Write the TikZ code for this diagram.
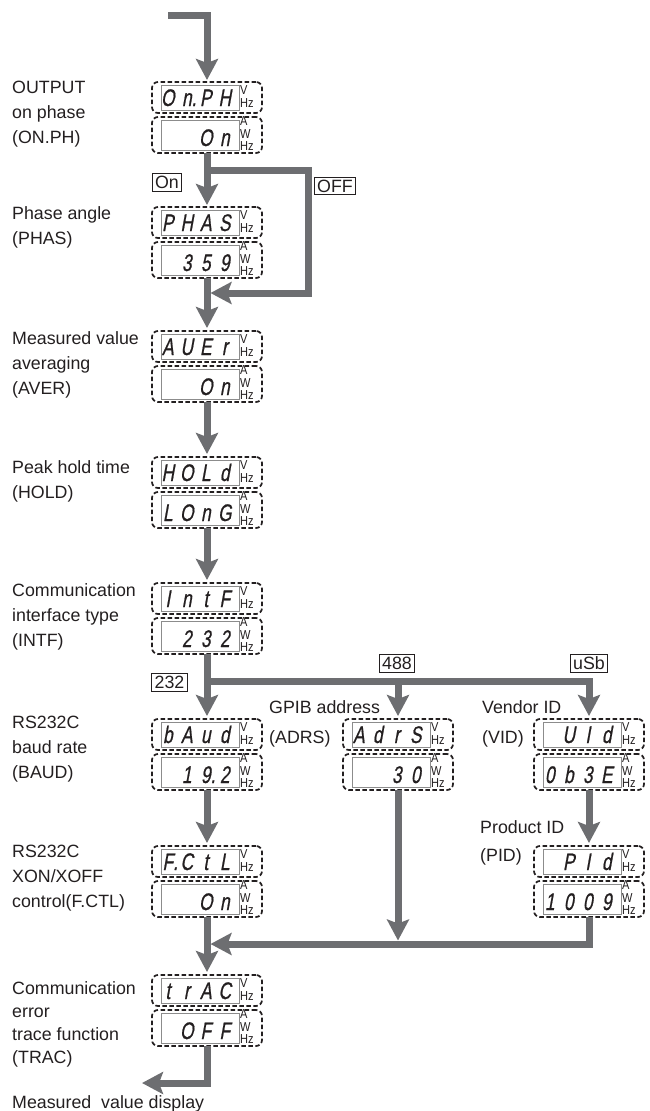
\documentclass[tikz,border=0pt]{standalone}
\usepackage{fontspec}
\setmainfont{Liberation Sans}
\newfontfamily\lcdfont{Liberation Sans}[FakeStretch=0.72,FakeSlant=0.18,FakeBold=0.7]
\newfontfamily\unitfont{Liberation Sans}[FakeStretch=0.85]
\usepackage{tikz}
\usetikzlibrary{arrows.meta,calc}
\definecolor{flowgrey}{RGB}{109,110,113}
\definecolor{inkblack}{RGB}{35,31,32}
\definecolor{lcdgrey}{RGB}{140,140,140}

\tikzset{
  lcdframe/.style={draw=inkblack,line width=1.7pt,dash pattern=on 4.5pt off 2.5pt,
    rounded corners=6pt,minimum width=110pt,inner sep=0pt,outer sep=0pt},
  lcdinner/.style={draw=lcdgrey,line width=1pt},
  lcdtext/.style={inner sep=0pt,text=inkblack,font=\lcdfont\fontsize{24}{24}\selectfont},
  lcdunit/.style={inner sep=0pt,align=left,text=inkblack,font=\unitfont\fontsize{13}{12.5}\selectfont},
  flow/.style={draw=flowgrey,line width=7pt,-{Stealth[length=21pt,width=22pt,inset=4pt]}},
  desc/.style={inner sep=0pt,align=left,anchor=north west,text=inkblack,
    font=\fontsize{17.8}{25}\selectfont},
  tag/.style={draw=inkblack,line width=0.9pt,fill=white,inner xsep=3pt,inner ysep=2.5pt,
    text height=12.7pt,text depth=0pt,text=inkblack,font=\fontsize{17.8}{17.8}\selectfont}
}

% one display cell per character
\newcommand{\lcdcells}[1]{\foreach \lcdch in {#1}{\makebox[19pt]{\lcdch}}}
% display pair: name, x, top y, upper cells, lower cells
\newcommand{\lcdpair}[5]{%
  \node[lcdframe,minimum height=31pt] (#1) at (#2,#3+15.5) {};
  \node[lcdframe,minimum height=36pt] (#1v) at (#2,#3+53) {};
  \draw[lcdinner] ([xshift=9pt,yshift=-3pt]#1.north west) rectangle ([xshift=-23pt,yshift=3pt]#1.south east);
  \draw[lcdinner] ([xshift=9pt,yshift=-3pt]#1v.north west) rectangle ([xshift=-23pt,yshift=3pt]#1v.south east);
  \node[lcdtext,anchor=base east] (#1t) at ([xshift=-27.5pt,yshift=7pt]#1.south east) {\lcdcells{#4}};
  \node[lcdtext,anchor=base east] (#1vt) at ([xshift=-27.5pt,yshift=7pt]#1v.south east) {\lcdcells{#5}};
  \node[lcdunit,anchor=west] (#1u) at ([xshift=-22pt,yshift=1pt]#1.east) {V\\Hz};
  \node[lcdunit,anchor=west] (#1vu) at ([xshift=-22pt,yshift=1pt]#1v.east) {A\\W\\Hz};
}

\begin{document}
\begin{tikzpicture}[x=1pt,y=-1pt]
  \useasboundingbox (0,0) rectangle (649,1111);

  % displays
  \lcdpair{onph}{207}{82}{O,{n\rlap{.}},P,H}{O,n}
  \lcdpair{phas}{207}{207}{P,H,A,S}{3,5,9}
  \lcdpair{aver}{207}{331}{A,U,E,r}{O,n}
  \lcdpair{hold}{207}{457}{H,O,L,d}{L,O,n,G}
  \lcdpair{intf}{207}{583}{I,n,t,F}{2,3,2}
  \lcdpair{baud}{207}{719}{b,A,u,d}{1,{9\rlap{.}},2}
  \lcdpair{fctl}{207}{846}{{F\rlap{.}},C,t,L}{O,n}
  \lcdpair{trac}{207}{975}{t,r,A,C}{O,F,F}
  \lcdpair{adrs}{398}{719}{A,d,r,S}{3,0}
  \lcdpair{vid}{589}{719}{U,I,d}{0,b,3,E}
  \lcdpair{pid}{589}{846}{P,I,d}{1,0,0,9}

  % descriptions
  \node[desc] (onphlbl) at (12,81) {OUTPUT\\on phase\\(ON.PH)};
  \node[desc] (phaslbl) at (12,206) {Phase angle\\(PHAS)};
  \node[desc] (averlbl) at (12,331) {Measured value\\averaging\\(AVER)};
  \node[desc] (holdlbl) at (12,460) {Peak hold time\\(HOLD)};
  \node[desc] (intflbl) at (12,583) {Communication\\interface type\\(INTF)};
  \node[desc] (baudlbl) at (12,716) {RS232C\\baud rate\\(BAUD)};
  \node[desc] (fctllbl) at (12,845) {RS232C\\XON/XOFF\\control(F.CTL)};
  \node[desc,font=\fontsize{17.8}{23}\selectfont] (traclbl) at (12,981) {Communication\\error\\trace function\\(TRAC)};
  \node[desc,font=\fontsize{17.8}{30}\selectfont] (adrslbl) at (269,700) {GPIB address\\(ADRS)};
  \node[desc,font=\fontsize{17.8}{30}\selectfont] (vidlbl) at (482,700) {Vendor ID\\(VID)};
  \node[desc,font=\fontsize{17.8}{28}\selectfont] (pidlbl) at (480,820) {Product ID\\(PID)};
  \node[desc] (exitlbl) at (12,1095) {Measured~~value display};

  % flow
  \coordinate (entry) at (168,15);
  \draw[flow,shorten >=2pt] (entry) -| (onph.north);
  \draw[flow,shorten >=2pt] (onphv.south) -- (phas.north);
  \coordinate (offsplit) at (207,170);
  \coordinate (offturn) at (308,293);
  \coordinate (offjoin) at (210.5,293);
  \draw[flow] (offsplit) -| (offturn) -- (offjoin);
  \draw[flow,shorten >=3pt] (phasv.south) -- (aver.north);
  \draw[flow,shorten >=3pt] (averv.south) -- (hold.north);
  \draw[flow,shorten >=3pt] (holdv.south) -- (intf.north);
  \coordinate (split) at (207,681);
  \draw[flow,shorten >=3pt] (intfv.south) -- (baud.north);
  \draw[flow,shorten >=3pt] (split) -| (vid.north);
  \draw[flow,shorten >=3pt] (split -| adrs.north) -- (adrs.north);
  \draw[flow,shorten >=3pt] (baudv.south) -- (fctl.north);
  \draw[flow,shorten >=3pt] (vidv.south) -- (pid.north);
  \coordinate (merge) at (210.5,944);
  \coordinate (gpibjoin) at (398,940.5);
  \draw[flow] (pidv.south) |- (merge);
  \draw[flow] (adrsv.south) -- (gpibjoin);
  \draw[flow,shorten >=3pt] (fctlv.south) -- (trac.north);
  \coordinate (exit) at (142,1083);
  \draw[flow] (tracv.south) |- (exit);

  % branch tags
  \node[tag] (ontag) at (167,182.5) {On};
  \node[tag] (offtag) at (335,186) {OFF};
  \node[tag] (rstag) at (169.5,682.5) {232};
  \node[tag] (gpibtag) at (397,663.5) {488};
  \node[tag] (usbtag) at (589,663.5) {uSb};
\end{tikzpicture}
\end{document}
